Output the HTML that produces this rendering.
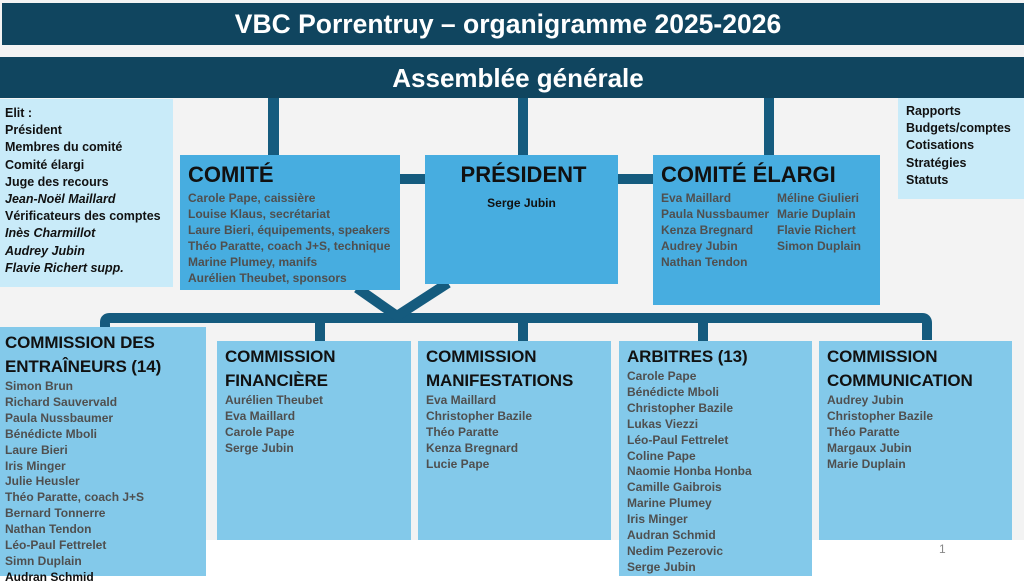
<!DOCTYPE html>
<html><head><meta charset="utf-8"><style>
*{margin:0;padding:0;box-sizing:border-box}
body{width:1024px;height:576px;overflow:hidden;background:#fff;position:relative;font-family:"Liberation Sans",sans-serif}
.a{position:absolute}
.bar{background:#10455f;color:#fff;text-align:center;font-weight:bold}
.lt{background:#c9ebf9;font-weight:bold;font-size:12.5px;line-height:17.2px;color:#111;padding:6px 5px}
.bx{background:#47ade0}
.cb{background:#83c9ea}
.h{font-size:17px;color:#111;line-height:24px;font-weight:bold;letter-spacing:-0.1px}
.n{font-size:12px;font-weight:bold;color:#4f4f4f;line-height:15.9px}
.big{font-size:22px;color:#111;line-height:26px;font-weight:bold}
</style></head><body>
<div class="a" style="left:0;top:0;width:1024px;height:540px;background:#f3f3f3"></div>
<div class="a bar" style="left:2px;top:3px;width:1022px;height:42px;font-size:26.5px;line-height:42px;padding-right:10px">VBC Porrentruy – organigramme 2025-2026</div>
<div class="a bar" style="left:0;top:57px;width:1024px;height:41px;font-size:26px;line-height:42px;padding-left:12px">Assemblée générale</div>
<div class="a lt" style="left:0;top:99px;width:173px;height:188px">Elit :<br>Président<br>Membres du comité<br>Comité élargi<br>Juge des recours<br><i>Jean-Noël Maillard</i><br>Vérificateurs des comptes<br><i>Inès Charmillot</i><br><i>Audrey Jubin</i><br><i>Flavie Richert supp.</i></div>
<div class="a lt" style="left:898px;top:98px;width:126px;height:101px;padding:5px 8px">Rapports<br>Budgets/comptes<br>Cotisations<br>Stratégies<br>Statuts</div>
<svg class="a" style="left:0;top:0" width="1024" height="576">
<g fill="#155b7e" stroke="none">
<rect x="268" y="98" width="11" height="58"/>
<rect x="518" y="98" width="10" height="58"/>
<rect x="764" y="98" width="10" height="58"/>
<rect x="400" y="174" width="26" height="10"/>
<rect x="618" y="174" width="36" height="10"/>
<rect x="315" y="318" width="10" height="24"/>
<rect x="518" y="318" width="10" height="24"/>
<rect x="698" y="318" width="10" height="24"/>
</g>
<g stroke="#155b7e" stroke-width="10" fill="none">
<path d="M105 338 V322 Q105 318 110 318 H922 Q927 318 927 323 V340"/>
<path d="M357 288 L397 316 L448 283"/>
</g>
</svg>
<div class="a bx" style="left:180px;top:155px;width:220px;height:135px;padding:7px 8px">
<div class="big">COMITÉ</div>
<div class="n" style="margin-top:3px">Carole Pape, caissière<br>Louise Klaus, secrétariat<br>Laure Bieri, équipements, speakers<br>Théo Paratte, coach J+S, technique<br>Marine Plumey, manifs<br>Aurélien Theubet, sponsors</div></div>
<div class="a bx" style="left:425px;top:155px;width:193px;height:129px;text-align:center;padding-top:7px">
<div class="big" style="padding-left:4px">PRÉSIDENT</div>
<div class="n" style="color:#111;margin-top:8px">Serge Jubin</div></div>
<div class="a bx" style="left:653px;top:155px;width:227px;height:150px;padding:7px 8px">
<div class="big">COMITÉ ÉLARGI</div>
<div class="n" style="display:flex;margin-top:3px"><div style="width:116px">Eva Maillard<br>Paula Nussbaumer<br>Kenza Bregnard<br>Audrey Jubin<br>Nathan Tendon</div><div>Méline Giulieri<br>Marie Duplain<br>Flavie Richert<br>Simon Duplain</div></div></div>
<div class="a cb" style="left:0;top:327px;width:206px;height:249px;padding:4px 5px">
<div class="h">COMMISSION DES<br>ENTRAÎNEURS (14)</div>
<div class="n">Simon Brun<br>Richard Sauvervald<br>Paula Nussbaumer<br>Bénédicte Mboli<br>Laure Bieri<br>Iris Minger<br>Julie Heusler<br>Théo Paratte, coach J+S<br>Bernard Tonnerre<br>Nathan Tendon<br>Léo-Paul Fettrelet<br>Simn Duplain<br><span style="color:#111">Audran Schmid</span></div></div>
<div class="a cb" style="left:217px;top:341px;width:194px;height:199px;padding:4px 8px">
<div class="h">COMMISSION<br>FINANCIÈRE</div>
<div class="n">Aurélien Theubet<br>Eva Maillard<br>Carole Pape<br>Serge Jubin</div></div>
<div class="a cb" style="left:418px;top:341px;width:193px;height:199px;padding:4px 8px">
<div class="h">COMMISSION<br>MANIFESTATIONS</div>
<div class="n">Eva Maillard<br>Christopher Bazile<br>Théo Paratte<br>Kenza Bregnard<br>Lucie Pape</div></div>
<div class="a cb" style="left:619px;top:341px;width:193px;height:235px;padding:4px 8px">
<div class="h">ARBITRES (13)</div>
<div class="n">Carole Pape<br>Bénédicte Mboli<br>Christopher Bazile<br>Lukas Viezzi<br>Léo-Paul Fettrelet<br>Coline Pape<br>Naomie Honba Honba<br>Camille Gaibrois<br>Marine Plumey<br>Iris Minger<br>Audran Schmid<br>Nedim Pezerovic<br>Serge Jubin</div></div>
<div class="a cb" style="left:819px;top:341px;width:193px;height:199px;padding:4px 8px">
<div class="h">COMMISSION<br>COMMUNICATION</div>
<div class="n">Audrey Jubin<br>Christopher Bazile<br>Théo Paratte<br>Margaux Jubin<br>Marie Duplain</div></div>
<div class="a" style="left:939px;top:542px;font-size:12px;color:#888">1</div>
</body></html>
